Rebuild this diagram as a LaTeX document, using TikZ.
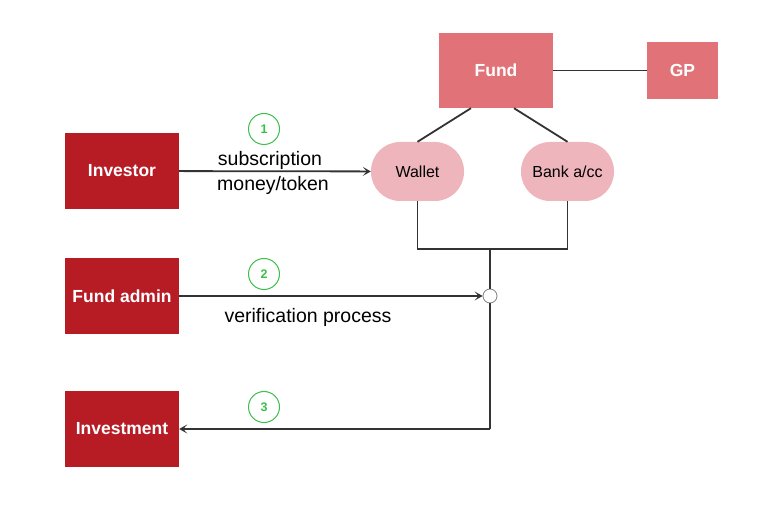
\documentclass[tikz,border=0pt]{standalone}
\usepackage{fontspec}
\setmainfont{Liberation Sans}
\usepackage{xcolor}
\usetikzlibrary{arrows.meta, positioning, calc}
\definecolor{darkred}{HTML}{B71C25}
\definecolor{fundred}{HTML}{E07278}
\definecolor{pillpink}{HTML}{EEB6BC}
\definecolor{linegray}{HTML}{333333}
\definecolor{stepgreen}{HTML}{3DBE4A}
\tikzset{
    party/.style={fill=darkred, text=white, font=\fontsize{17.5}{20}\selectfont\bfseries,
        minimum width=114pt, minimum height=76pt, inner sep=0pt},
    fundbox/.style={fill=fundred, text=white, font=\fontsize{17.5}{20}\selectfont\bfseries, inner sep=0pt},
    pill/.style={fill=pillpink, rounded corners=29pt, font=\fontsize{16}{18}\selectfont,
        minimum width=93pt, minimum height=59pt, inner sep=0pt},
    stepno/.style={circle, draw=stepgreen, line width=1pt, text=stepgreen, minimum size=31pt, inner sep=0pt,
        font=\fontsize{12.5}{14}\selectfont\bfseries},
    flow/.style={draw=linegray, line width=1.8pt},
    arr/.style={flow, -{Stealth[length=8pt, width=9pt, inset=4pt]}},
    lbl/.style={font=\fontsize{19.5}{22}\selectfont}
}
\begin{document}
\begin{tikzpicture}[x=1pt, y=-1pt]
        \useasboundingbox (0,0) rectangle (782,518);

        \node[party] at (122,171) (investor) {Investor};
        \node[party] at (122,296) (admin) {Fund admin};
        \node[party] at (122,429) (investment) {Investment};

        \node[fundbox, minimum width=114pt, minimum height=75pt] at (496,70.5) (fund) {Fund};
        \node[fundbox, minimum width=71pt, minimum height=57pt] at (682.5,70.5) (gp) {GP};

        \node[pill] at (417.5,171.5) (wallet) {Wallet};
        \node[pill] at (567.5,171.5) (bank) {Bank a/cc};

        % fund structure
        \coordinate (top) at (490,249);
        \draw[flow] (fund) -- (gp);
        \draw[flow] ($(fund.south)+(-25,0)$) -- (wallet.north);
        \draw[flow] ($(fund.south)+(18,0)$) -- (bank.north);
        \draw[flow] (wallet.south) |- (top) -| (bank.south);

        % verification point
        \node[circle, draw=gray, line width=0.8pt, minimum size=14pt, inner sep=0pt] at (490,296) (check) {};
        \coordinate (corner) at (490,429);
        \draw[flow] (top) -- (check.north);
        \draw[flow] (check.south) -- (corner);

        % flows
        \draw[arr] (investor) -- (wallet);
        \draw[arr] (admin) -- (check);
        \draw[arr] (corner) -- (investment);

        \node[lbl] at (270,160) (sub) {subscription};
        \node[lbl] at (273,185) (money) {money/token};
        \node[lbl] at (308,317) (verif) {verification process};

        \node[stepno] at (264,129) (s1) {1};
        \node[stepno] at (264,274) (s2) {2};
        \node[stepno] at (264,407) (s3) {3};
    \end{tikzpicture}
\end{document}
